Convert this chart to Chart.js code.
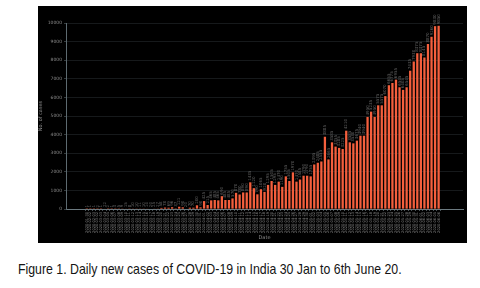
<!DOCTYPE html>
<html>
<head>
<meta charset="utf-8">
<script src="https://cdn.jsdelivr.net/npm/chart.js@4.4.0/dist/chart.umd.min.js"></script>
<style>
    html, body { margin: 0; padding: 0; background: #fff; width: 480px; height: 288px; overflow: hidden; }
    #panel { position: absolute; left: 38px; top: 6px; width: 429px; height: 237px; background: #000; }
    #caption { position: absolute; left: 18px; top: 261px; font-family: "Liberation Sans", sans-serif; font-size: 14.5px; color: #141414; white-space: nowrap;
        transform: scaleX(0.85); transform-origin: left top; }
</style>
</head>
<body>
<div id="panel"><canvas id="casesChart" width="429" height="237"></canvas></div>
<div id="caption">Figure 1. Daily new cases of COVID-19 in India 30 Jan to 6th June 20.</div>

<script>
// dates shown on the x axis (only days that had reported cases in the early part)
const dates = ['2020-01-30', '2020-02-02', '2020-02-03'];
// 2 Mar .. 6 Jun
const marchToJune = [
    '03-02','03-03','03-04','03-05','03-06','03-07','03-08','03-09','03-10','03-11','03-12','03-13','03-14','03-15','03-16','03-17',
    '03-18','03-19','03-20','03-21','03-22','03-23','03-24','03-25','03-26','03-27','03-28','03-29','03-30','03-31',
    '04-01','04-02','04-03','04-04','04-05','04-06','04-07','04-08','04-09','04-10','04-11','04-12','04-13','04-14','04-15',
    '04-16','04-17','04-18','04-19','04-20','04-21','04-22','04-23','04-24','04-25','04-26','04-27','04-28','04-29','04-30',
    '05-01','05-02','05-03','05-04','05-05','05-06','05-07','05-08','05-09','05-10','05-11','05-12','05-13','05-14','05-15',
    '05-16','05-17','05-18','05-19','05-20','05-21','05-22','05-23','05-24','05-25','05-26','05-27','05-28','05-29','05-30','05-31',
    '06-01','06-02','06-03','06-04','06-05','06-06'
];
marchToJune.forEach(d => dates.push('2020-' + d));

// daily new cases
const earlyCases = [1, 1, 1, 2, 1, 22, 2, 1, 3, 5, 9, 15, 8, 10, 10, 11, 10, 14, 20, 25, 27, 58, 78, 69, 96, 37, 121];
const marchAprilCases = [90, 20, 70, 70, 200, 90, 425, 215, 465, 485, 465, 690, 485, 485, 570, 870, 780, 890, 890, 1435, 1120,
    790, 1065, 920, 1295, 1505, 1295, 1470, 1190, 1755, 1505, 1970, 1470, 1585, 1790, 1790, 1755];
const mayCases = [2395, 2485, 2555, 3885, 2665, 3585, 3355, 3285, 3225, 4210, 3585, 3530, 3675, 3940, 3940, 4950, 5235, 4950,
    5575, 5575, 6070, 6655, 6775, 6955, 6545, 6405, 6545, 7435, 7930];
const juneCases = [8375, 8375, 8145, 8870, 9260, 9830, 9850];

const newCases = earlyCases.concat(marchAprilCases, mayCases, juneCases);

const yTicks = [0, 1000, 2000, 3000, 4000, 5000, 6000, 7000, 8000, 9000, 10000];

// value labels standing up above each bar
const barValueLabels = {
    id: 'barValueLabels',
    afterDatasetsDraw(chart) {
        const ctx = chart.ctx;
        const meta = chart.getDatasetMeta(0);
        ctx.save();
        ctx.fillStyle = '#626262';
        ctx.font = '4px "DejaVu Sans"';
        ctx.textAlign = 'left';
        ctx.textBaseline = 'middle';
        meta.data.forEach((bar, i) => {
            ctx.save();
            ctx.translate(bar.x, bar.y - 1.5);
            ctx.rotate(-Math.PI / 2);
            ctx.fillText(String(newCases[i]), 0, 0);
            ctx.restore();
        });
        ctx.restore();
    }
};

document.addEventListener('DOMContentLoaded', () => {
    var ctx = document.getElementById('casesChart').getContext('2d');
    new Chart(ctx, {
        type: 'bar',
        data: {
            datasets: [{
                label: 'New cases',
                data: newCases.map((v, i) => ({ x: i, y: v })),
                backgroundColor: '#f45f3d',
                borderWidth: 0,
                barPercentage: 0.64,
                categoryPercentage: 1
            }]
        },
        options: {
            responsive: false,
            animation: false,
            layout: { padding: { top: 17, right: 4, left: 0, bottom: 0 } },
            plugins: { legend: { display: false }, tooltip: { enabled: false } },
            scales: {
                x: {
                    type: 'linear',
                    min: -5.3,
                    max: 105.3,
                    afterBuildTicks: scale => {
                        scale.ticks = dates.map((_, i) => ({ value: i }));
                    },
                    afterFit: scale => { scale.height = 34; },
                    ticks: {
                        autoSkip: false,
                        maxRotation: 90,
                        minRotation: 90,
                        padding: 1,
                        color: '#8a8a8a',
                        font: { family: 'DejaVu Sans', size: 3.6 },
                        callback: (value) => dates[value] || ''
                    },
                    grid: { drawOnChartArea: false, color: '#4a5458', tickLength: 2 },
                    border: { color: '#6c7a80', width: 1 },
                    title: {
                        display: true,
                        text: 'Date',
                        color: '#8a8a8a',
                        font: { family: 'DejaVu Sans', size: 5 },
                        padding: { top: 0, bottom: 2 }
                    }
                },
                y: {
                    min: 0,
                    max: 10000,
                    afterBuildTicks: scale => {
                        scale.ticks = yTicks.map(v => ({ value: v }));
                    },
                    afterFit: scale => { scale.width = 28; },
                    ticks: {
                        color: '#8a8a8a',
                        padding: 2,
                        font: { family: 'DejaVu Sans', size: 4.5 },
                        callback: (value) => String(value)
                    },
                    grid: { color: '#202426', lineWidth: 0.7, tickLength: 2, tickColor: '#4a5458' },
                    border: { color: '#5d6a70', width: 1 },
                    title: {
                        display: true,
                        text: 'No. of cases',
                        color: '#8a8a8a',
                        font: { family: 'DejaVu Sans', size: 5 },
                        padding: { top: 0, bottom: 1 }
                    }
                }
            }
        },
        plugins: [barValueLabels]
    });
});
</script>
</body>
</html>
